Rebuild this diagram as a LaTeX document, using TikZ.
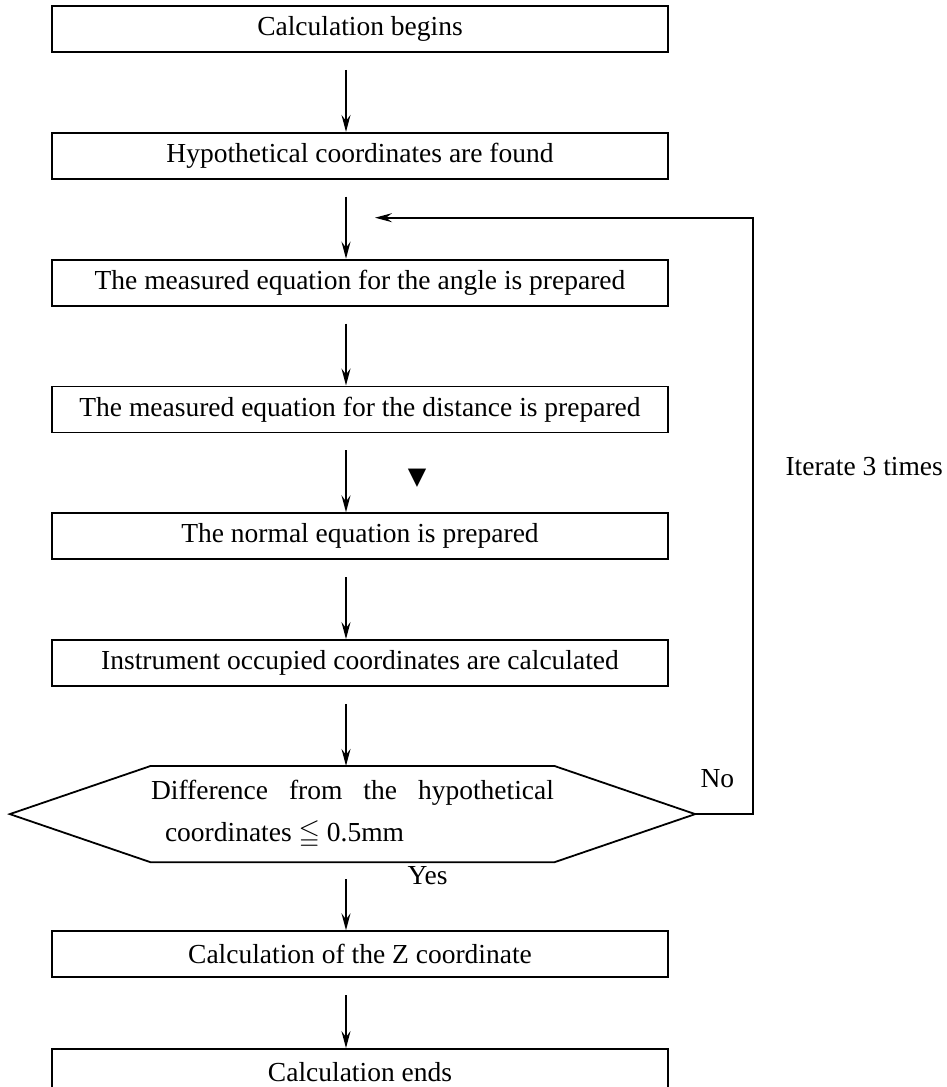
\documentclass[tikz,border=0pt]{standalone}
\usepackage{fontspec}
\usepackage{amssymb}
\setmainfont{Liberation Serif}
\newfontfamily\symfont{DejaVu Sans}
\usetikzlibrary{positioning, arrows.meta}

\tikzset{
  stepbox/.style={draw, line width=1.8pt, minimum width=616pt, minimum height=46pt, inner sep=0pt},
  hexbox/.style={minimum width=403pt, minimum height=96pt, inner sep=0pt},
  flow/.style={line width=1.8pt, -{Stealth[length=17pt,width=9pt,inset=6pt]}},
}

\begin{document}
\begin{tikzpicture}[x=1pt, y=-1pt, node distance=79pt, font=\fontsize{27.5}{33}\selectfont]
\useasboundingbox (0,0) rectangle (947,1087);
\coordinate (axis) at (346,0);
\coordinate (loopR) at (753,0);

\node[stepbox] (begin) at (360,29) {Calculation begins};
\node[stepbox, below=of begin] (hypo) {Hypothetical coordinates are found};
\node[stepbox, below=of hypo] (angle) {The measured equation for the angle is prepared};
\node[stepbox, below=of angle] (dist) {The measured equation for the distance is prepared};
\node[stepbox, below=of dist] (normal) {The normal equation is prepared};
\node[stepbox, below=of normal] (instr) {Instrument occupied coordinates are calculated};
\node[hexbox, below=of instr, xshift=-7.5pt] (hex) {\parbox{403pt}{\baselineskip=42pt
  \makebox[403pt][s]{Difference from the hypothetical}\\
  \hspace*{14pt}coordinates $\leqq$ 0.5mm}};
\node[stepbox, below=68pt of hex, xshift=7.5pt] (zcoord) {Calculation of the Z coordinate};
\node[stepbox, below=70pt of zcoord] (ends) {Calculation ends};

% hexagon round the test
\draw[line width=1.8pt] (hex.north west) -- (hex.north east) -- ([xshift=141pt]hex.east) coordinate (hexR)
  -- (hex.south east) -- (hex.south west) -- ([xshift=-141pt]hex.west) -- cycle;

\foreach \a/\b in {begin/hypo, hypo/angle, angle/dist, dist/normal, normal/instr, instr/hex, hex/zcoord, zcoord/ends}
  \draw[flow] ([yshift=-17pt]\a.south -| axis) -- (\b.north -| axis);

% loop back
\coordinate (back) at ([yshift=-38pt]hypo.south -| loopR);
\draw[flow] (hexR) -- (hexR -| loopR) -- (back) -- ([xshift=29pt]back -| axis);

\node[anchor=base west] (no) at (697,787) {No};
\node[anchor=base west] (yes) at (404,884) {Yes};
\node[anchor=base west] (iter) at (782,475) {Iterate 3 times};
\node[font=\symfont\fontsize{24}{24}\selectfont] (mark) at (417,478) {▼};
\end{tikzpicture}
\end{document}
